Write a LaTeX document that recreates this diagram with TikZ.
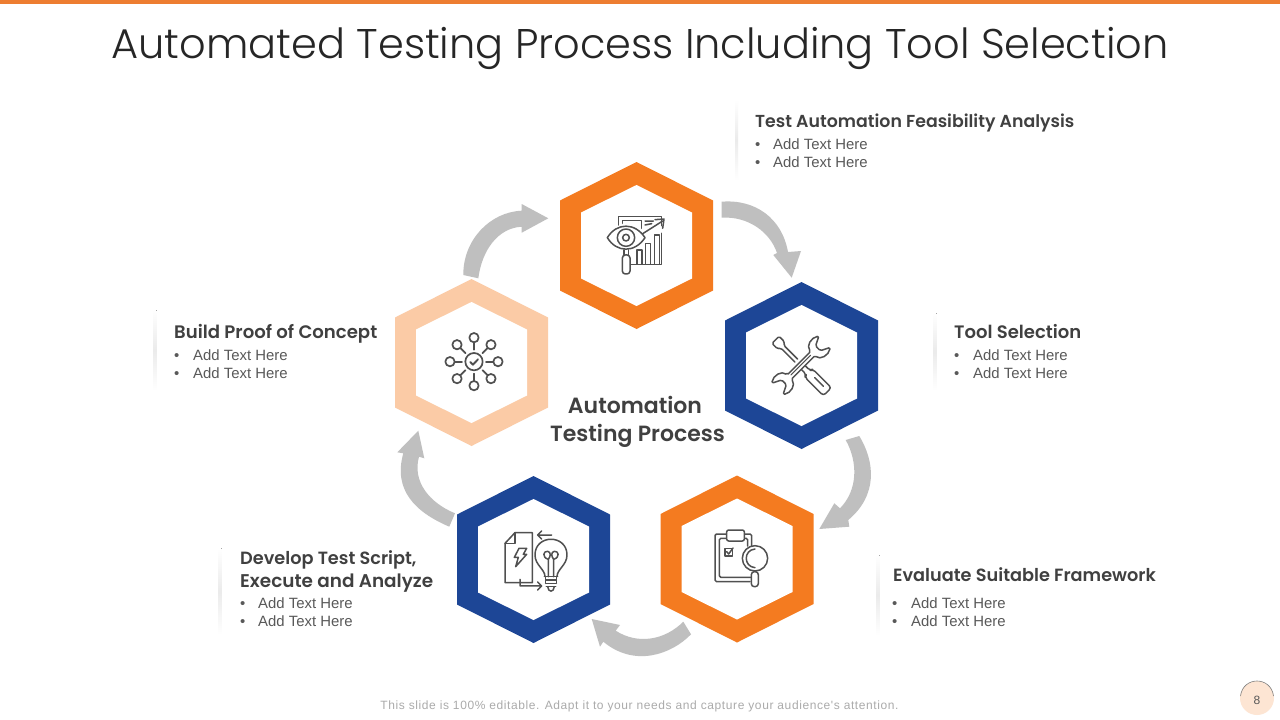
\documentclass[tikz,border=0pt]{standalone}
\usepackage{fontspec}
\usetikzlibrary{calc}
\setmainfont{Liberation Sans}
\newfontfamily\titlefont{Poppins Light}
\newfontfamily\headfont{Poppins SemiBold}
\newfontfamily\footfont[LetterSpace=5]{Liberation Sans}
\definecolor{orng}{HTML}{F47B20}
\definecolor{topbar}{HTML}{ED7D31}
\definecolor{blu}{HTML}{1D4696}
\definecolor{pch}{HTML}{FBCBA6}
\definecolor{arrowgray}{HTML}{BFBFBF}
\definecolor{icon}{HTML}{505050}
\definecolor{headc}{HTML}{404040}
\definecolor{bodyc}{HTML}{595959}
\newcommand{\hexring}[3]{%
  \begin{scope}[shift={(#1,#2)}]
  \fill[#3] (0,-83.5)--(76.5,-45)--(76.5,45)--(0,83.5)--(-76.5,45)--(-76.5,-45)--cycle;
  \fill[white] (0,-60.5)--(55.5,-33)--(55.5,33)--(0,60.5)--(-55.5,33)--(-55.5,-33)--cycle;
  \end{scope}}
\newcommand{\hfs}[1]{\headfont\fontsize{#1}{22}\selectfont}
\tikzset{
  iconline/.style={draw=icon,line width=1.5pt,line join=round,line cap=round},
  headtext/.style={anchor=base west,inner sep=0pt,text=headc},
  bodytext/.style={anchor=base west,inner sep=0pt,font=\fontsize{14.9}{18}\selectfont,text=bodyc},
  bigtext/.style={anchor=base,inner sep=0pt,font=\headfont\fontsize{22}{28}\selectfont,text=headc},
  flowarrow/.style={fill=arrowgray,draw=none},
  sep/.style={top color=white,bottom color=white,middle color=black!8,draw=none}
}
\newcommand{\bul}[4]{% name, x bullet, x text, baseline
  \node[bodytext] (#1b) at (#2,#4) {•};
  \node[bodytext] (#1t) at (#3,#4) {Add Text Here};}
\begin{document}
\begin{tikzpicture}[x=1pt,y=-1pt]
\useasboundingbox (0,0) rectangle (1280,720);
\fill[white] (0,0) rectangle (1280,720);
\fill[topbar] (0,0) rectangle (1280,4);
\node[anchor=base,inner sep=0pt,font=\titlefont\fontsize{41.5}{48}\selectfont,text=black!85] (title) at (640,58) {Automated Testing Process Including Tool Selection};

% hexagons
\hexring{636.5}{245.5}{orng}
\hexring{801.5}{365.5}{blu}
\hexring{737}{559}{orng}
\hexring{533.5}{559.5}{blu}
\hexring{471.5}{362.5}{pch}

% arrows
\fill[flowarrow] (721.7,201.7) .. controls (755,199) and (782,218) .. (788,252) -- (801,251) -- (791.7,277.7) -- (773.3,255) -- (777,253) .. controls (770,232) and (748,216) .. (721.7,217.7) -- cycle;
\fill[flowarrow] (859.3,436) .. controls (875,462) and (878,495) .. (848.3,520) -- (849.3,526.7) -- (819.3,529) -- (834.3,503.3) -- (840,508.3) .. controls (858,490) and (858,462) .. (845.7,440) -- cycle;
\fill[flowarrow] (691,634.3) .. controls (672,654) and (635,668) .. (603.3,641.7) -- (600,646.7) -- (591.7,619) -- (620,625) -- (615.7,630.7) .. controls (638,645) and (665,640) .. (683.3,621.7) -- cycle;
\fill[flowarrow] (449.3,526.7) .. controls (415,512) and (393,490) .. (403.3,453.3) -- (397.3,452.3) -- (418.3,430.7) -- (424.3,458.3) -- (419,456.7) .. controls (412,482) and (430,503) .. (455,513.3) -- cycle;
\fill[flowarrow] (463.3,275) .. controls (463,240) and (490,212) .. (521.7,210.7) -- (521.7,204) -- (548.3,218.3) -- (521.7,232.7) -- (521.7,226.7) .. controls (498,228) and (482,250) .. (478.3,278.3) -- cycle;

% separators
\fill[sep] (735,100) rectangle (738,180);
\fill[sep] (933.5,313) rectangle (936.5,390);
\fill[sep] (153.5,310) rectangle (156.5,390);
\fill[sep] (876.5,555) rectangle (879.5,635);
\fill[sep] (218.5,548) rectangle (221.5,635);

% text
\node[headtext,font=\hfs{17.35}] (h1) at (755,127.5) {Test Automation Feasibility Analysis};
\bul{a}{755}{773}{149}\bul{b}{755}{773}{167}
\node[headtext,font=\hfs{18}] (h2) at (954,338.5) {Tool Selection};
\bul{c}{954}{973}{360}\bul{d}{954}{973}{378}
\node[headtext,font=\hfs{18.1}] (h3) at (174,338.5) {Build Proof of Concept};
\bul{e}{174}{193}{360}\bul{f}{174}{193}{378}
\node[headtext,font=\hfs{17.7}] (h4) at (893,581.5) {Evaluate Suitable Framework};
\bul{g}{892}{911}{608}\bul{h}{892}{911}{626}
\node[headtext,font=\hfs{17.7}] (h5) at (240,564.5) {Develop Test Script,};
\node[headtext,font=\hfs{18.4}] (h6) at (240,587.5) {Execute and Analyze};
\bul{i}{240}{258}{608}\bul{j}{240}{258}{626}
\node[bigtext] (c1) at (635,413) {Automation};
\node[bigtext] (c2) at (637.5,441) {Testing Process};

% footer
\node[anchor=base,inner sep=0pt,font=\footfont\fontsize{12}{14}\selectfont,text=black!33] (foot) at (639.5,709.5) {This slide is 100\% editable. Adapt it to your needs and capture your audience's attention.};
\fill[pch!50!white] (1257,698) circle (17);
\draw[black!50,line width=.6pt] (1240.5,696) .. controls (1243,676) and (1271,676) .. (1273.5,696);
\node[inner sep=0pt,font=\fontsize{12}{14}\selectfont,text=bodyc] (pg) at (1257,700) {8};

% icon 1: eye & chart
\begin{scope}[shift={(600,205)},scale=0.3333]
\draw[iconline] (55,60)--(55,35)--(185,35)--(185,62) (185,85)--(185,178)--(92,178);
\draw[iconline] (68,55)--(68,46)--(125,46)--(125,70);
\draw[iconline] (135,48)--(160,48) (135,60)--(155,56);
\draw[iconline] (125,88)--(188,48);
\draw[iconline] (165,44)--(192,42)--(188,70);
\draw[iconline,fill=white] (22,98) .. controls (50,52) and (105,52) .. (135,98) .. controls (105,144) and (50,144) .. (22,98) -- cycle;
\draw[iconline] (78,98) circle (26);
\draw[iconline] (78,98) circle (10);
\draw[iconline] (72,135)--(72,150) (86,135)--(86,150);
\draw[iconline,rounded corners=3pt] (67,150) rectangle (90,207);
\draw[iconline] (111,135) rectangle (126,178);
\draw[iconline] (136,115) rectangle (151,178);
\draw[iconline] (163,90) rectangle (178,178);
\end{scope}

% icon 2: tools
\begin{scope}[shift={(765,328)},scale=0.3333]
\begin{scope}[shift={(108,112)},rotate=45]
\draw[iconline,rounded corners=1.5pt] (-6,-20)--(-6,-78)--(-15,-86)--(-15,-108)--(15,-108)--(15,-86)--(6,-78)--(6,-20);
\draw[iconline,rounded corners=3pt] (-8,10)--(-8,30)--(-17,34)--(-17,112)--(17,112)--(17,34)--(8,30)--(8,10);
\draw[iconline] (3,55)--(3,92);
\draw[iconline,fill=white,rounded corners=1.5pt] (-50,-9)--(50,-9) .. controls (52,-30) and (80,-38) .. (100,-24) -- (72,-10) -- (72,10) -- (100,24) .. controls (80,38) and (52,30) .. (50,9) -- (-50,9) .. controls (-52,30) and (-80,38) .. (-100,24) -- (-72,10) -- (-72,-10) -- (-100,-24) .. controls (-80,-38) and (-52,-30) .. (-50,-9) -- cycle;
\draw[iconline,line width=.9pt] (-42,-1)--(42,-1);
\end{scope}
\end{scope}

% icon 3: hub
\begin{scope}[shift={(380,280)},scale=0.3333]
\draw[iconline,line width=1.7pt] (282,245) circle (26);
\draw[iconline,line width=1.9pt] (271,246)--(279,254)--(294,238);
\foreach \a in {0,45,...,315}{
  \draw[iconline,line width=1.7pt] ($(282,245)+(\a:36)$)--($(282,245)+(\a:58)$);
  \draw[iconline,line width=1.7pt] ($(282,245)+(\a:72)$) circle (14);
}
\end{scope}

% icon 4: doc & bulb
\begin{scope}[shift={(495,520)},scale=0.3333]
\draw[iconline] (30,70)--(60,38)--(112,38)--(112,188)--(30,188)--cycle;
\draw[iconline] (60,38)--(60,70)--(30,70);
\draw[iconline] (72,85)--(95,85)--(85,103)--(95,103)--(62,140)--(70,112)--(58,112)--cycle;
\draw[iconline] (170,45)--(128,45) (140,33)--(128,45)--(140,57);
\draw[iconline] (75,178)--(75,198)--(140,198) (128,186)--(140,198)--(128,210);
\draw[iconline] (150,170) .. controls (150,148) and (120,135) .. (120,105) .. controls (120,42) and (216,42) .. (216,105) .. controls (216,135) and (186,148) .. (186,170);
\draw[iconline] (160,170)--(160,118) .. controls (140,112) and (145,92) .. (158,94) .. controls (168,96) and (168,108) .. (160,118);
\draw[iconline] (176,170)--(176,118) .. controls (196,112) and (191,92) .. (178,94) .. controls (168,96) and (168,108) .. (176,118);
\draw[iconline] (148,170)--(188,170) (152,180)--(184,180) (152,190)--(184,190) (154,200)--(182,200) (152,170)--(152,190) (184,170)--(184,190);
\draw[iconline] (158,200) .. controls (160,218) and (176,218) .. (178,200);
\end{scope}

% icon 5: clipboard
\begin{scope}[shift={(705,520)},scale=0.3333]
\draw[iconline,rounded corners=1.5pt] (118,42)--(140,42)--(140,82) (135,185)--(30,185)--(30,42)--(65,42);
\draw[iconline,rounded corners=1.5pt] (118,55)--(128,55)--(128,78) (138,172)--(43,172)--(43,55)--(65,55);
\draw[iconline,fill=white,rounded corners=2pt] (65,30) rectangle (118,63);
\draw[iconline] (60,85) rectangle (82,108);
\draw[iconline] (65,95)--(71,102)--(84,84);
\draw[iconline,fill=white] (150,115) circle (38);
\draw[iconline] (150,87) .. controls (115,90) and (115,140) .. (150,143);
\draw[iconline,rounded corners=3pt] (139,155) rectangle (160,200);
\end{scope}
\end{tikzpicture}
\end{document}
